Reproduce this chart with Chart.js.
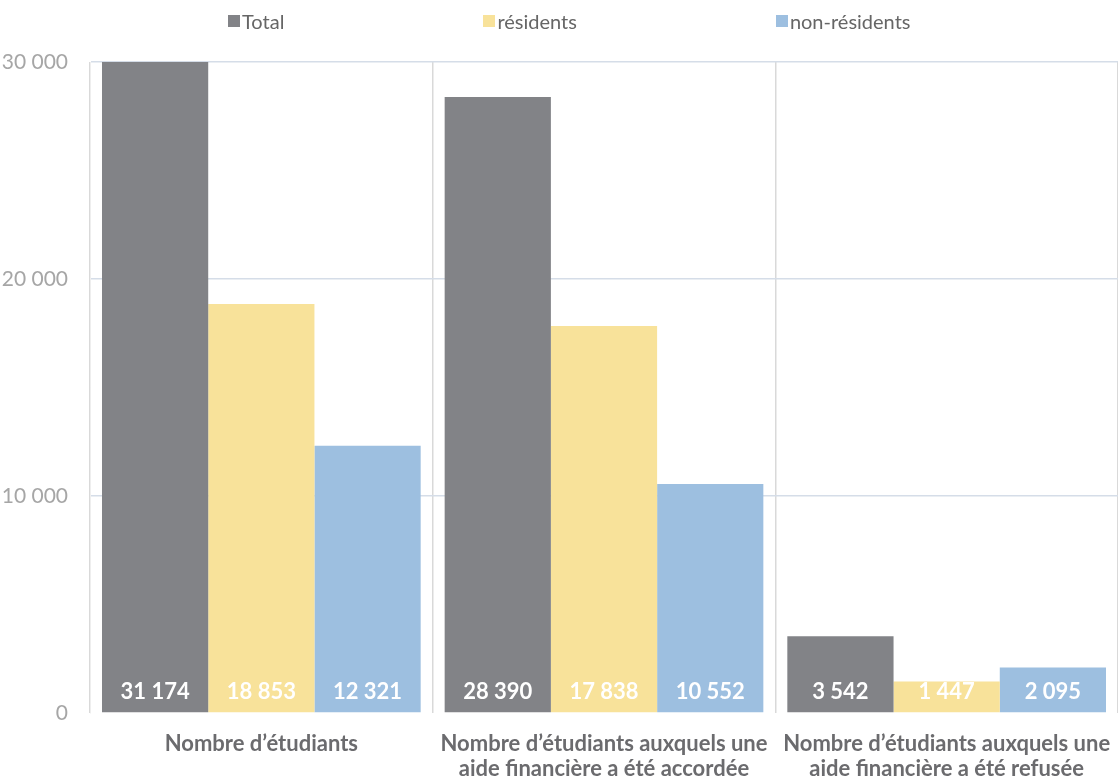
<!DOCTYPE html>
<html lang="fr">
<head>
<meta charset="utf-8">
<script src="https://cdn.jsdelivr.net/npm/chart.js@4"></script>
<style>
  body { margin: 0; background: #fff; }
  #wrap { position: relative; width: 1118px; height: 783px; }
  #legend {
    position: absolute; top: 9px; left: 228px;
    display: flex; font-family: Lato, sans-serif; font-size: 20px; color: #666;
  }
  #legend .item { display: flex; align-items: center; margin-right: 199px; }
  #legend .box { width: 12px; height: 12px; margin-right: 2px; }
</style>
</head>
<body>
<div id="wrap">
  <div id="legend"></div>
  <canvas id="chart" width="1118" height="783"></canvas>
</div>
<script>
// data
const categories = [
  ["Nombre d’étudiants"],
  ["Nombre d’étudiants auxquels une", "aide financière a été accordée"],
  ["Nombre d’étudiants auxquels une", "aide financière a été refusée"],
];
const totalValues = [31174, 28390, 3542];
const residentValues = [18853, 17838, 1447];
const nonResidentValues = [12321, 10552, 2095];
const yTicks = [0, 10000, 20000, 30000];

const fmt = (n) => String(n).replace(/\B(?=(\d{3})+(?!\d))/g, " ");

// white value labels at the foot of every bar
const barLabels = {
  id: "barLabels",
  afterDatasetsDraw(chart) {
    const ctx = chart.ctx;
    ctx.save();
    ctx.font = "bold 22px Lato, sans-serif";
    ctx.fillStyle = "#ffffff";
    ctx.textAlign = "center";
    ctx.textBaseline = "alphabetic";
    chart.data.datasets.forEach((ds, i) => {
      chart.getDatasetMeta(i).data.forEach((bar, j) => {
        ctx.fillText(fmt(ds.data[j]), bar.x, bar.base - 13);
      });
    });
    ctx.restore();
  },
};

const ctx = document.getElementById("chart").getContext("2d");
const chart = new Chart(ctx, {
  type: "bar",
  data: {
    labels: categories,
    datasets: [
      { label: "Total", data: totalValues, backgroundColor: "#828387" },
      { label: "résidents", data: residentValues, backgroundColor: "#f8e29a" },
      { label: "non-résidents", data: nonResidentValues, backgroundColor: "#9dbfe0" },
    ],
  },
  options: {
    responsive: false,
    animation: false,
    layout: { padding: { top: 62, right: 0, left: 0, bottom: 0 } },
    datasets: { bar: { categoryPercentage: 0.93, barPercentage: 1.0 } },
    plugins: {
      legend: { display: false },
      tooltip: { enabled: false },
    },
    scales: {
      x: {
        grid: { offset: true, color: "#d9d9d9", lineWidth: 1.5, drawTicks: false },
        border: { display: false },
        ticks: {
          color: "#6b6b6e",
          font: { family: "Lato, sans-serif", size: 22, weight: "bold", lineHeight: 1.12 },
          padding: 19,
          maxRotation: 0,
          autoSkip: false,
        },
        afterFit(scale) {
          scale.height = 70;
          scale.paddingLeft = 0;
          scale.paddingRight = 0;
        },
      },
      y: {
        min: 0,
        max: 30000,
        afterBuildTicks(scale) { scale.ticks = yTicks.map((v) => ({ value: v })); },
        grid: {
          color: (c) => (c.tick && c.tick.value === 0 ? "rgba(0,0,0,0)" : "#d5dde8"),
          lineWidth: 1.5,
          drawTicks: false,
        },
        border: { color: "#eeeeee" },
        ticks: {
          color: "#a6a6a6",
          font: { family: "Lato, sans-serif", size: 21 },
          padding: 22,
          callback: (v) => fmt(v),
        },
        afterFit(scale) { scale.width = 90; },
      },
    },
  },
  plugins: [barLabels],
});

// html legend
const legend = document.getElementById("legend");
chart.data.datasets.forEach((ds) => {
  const item = document.createElement("div");
  item.className = "item";
  const box = document.createElement("span");
  box.className = "box";
  box.style.background = ds.backgroundColor;
  const txt = document.createElement("span");
  txt.textContent = ds.label;
  item.appendChild(box);
  item.appendChild(txt);
  legend.appendChild(item);
});
</script>
</body>
</html>
